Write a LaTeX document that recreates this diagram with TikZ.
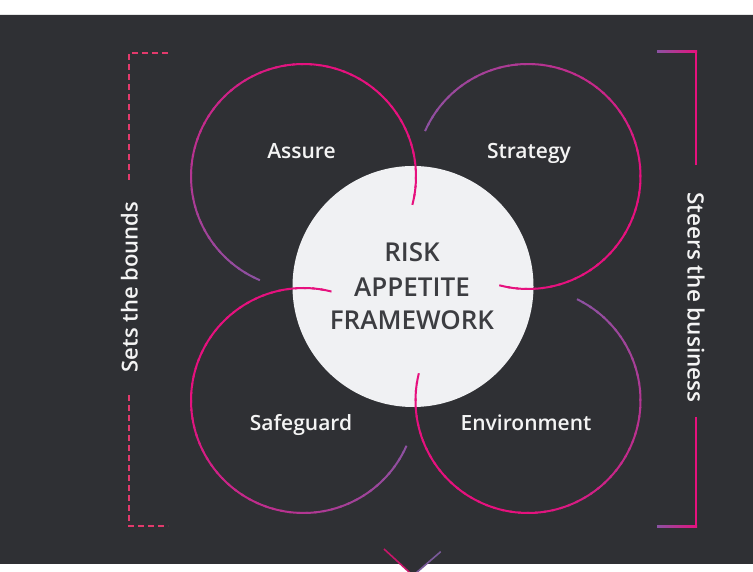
\documentclass[tikz,border=0pt]{standalone}
\usepackage{fontspec}
\setmainfont{Open Sans}
\newfontfamily\sbfont{Open Sans Semibold}
\definecolor{bg}{HTML}{2F3034}
\definecolor{pinkc}{HTML}{E6117E}
\definecolor{purplec}{HTML}{8C52A2}
\definecolor{dashc}{HTML}{E23A6C}
\definecolor{centerc}{HTML}{F0F1F3}
\definecolor{ctext}{HTML}{3C3D41}
\definecolor{ltext}{HTML}{F4F4F4}
\definecolor{vpink}{HTML}{C8166A}
\definecolor{vpurple}{HTML}{7A5A9A}
\tikzset{
  ringline/.style={line width=2pt, line cap=butt},
  ringlabel/.style={text=ltext, font=\sbfont\fontsize{21}{25}\selectfont, anchor=base, inner sep=0pt},
  corelabel/.style={text=ctext, font=\sbfont\fontsize{26}{30}\selectfont, anchor=base, inner sep=0pt},
  sidelabel/.style={text=ltext, font=\sbfont\fontsize{22}{26}\selectfont, anchor=base, inner sep=0pt},
  dashbracket/.style={draw=dashc, line width=2pt, dash pattern=on 6pt off 4pt},
  solidbracket/.style={draw=pinkc, line width=2pt},
}
\newcommand\ringarc[4]{%
  \foreach \i in {0,...,59}{%
    \pgfmathsetmacro\aa{#3+(#4-#3)*\i/60}%
    \pgfmathsetmacro\ab{\i==59 ? #4 : #3+(#4-#3)*(\i+1.3)/60}%
    \pgfmathsetmacro\s{1-(\i+0.5)/60}%
    \pgfmathsetmacro\p{min(100,100*\s/0.6)}%
    \draw[ringline, color=pinkc!\p!purplec] (#1,#2) ++(\aa:112.5pt) arc[start angle=\aa, end angle=\ab, radius=112.5pt];
  }}
\begin{document}
\begin{tikzpicture}[x=1pt,y=1pt]
\useasboundingbox (0,0) rectangle (753,572);
\fill[white] (0,0) rectangle (753,572);
\fill[bg] (0,557) -- (753,557) -- (753,8) -- (426.6,8) -- (413,-3.6) -- (400.5,8) -- (0,8) -- cycle;
\coordinate (vtip) at (413,-3.6);
\coordinate (vl) at (384,23);
\coordinate (vr) at (440.7,20.3);
\draw[vpink, line width=1.6pt] (vl) -- (vtip);
\draw[vpurple, line width=1.6pt] (vr) -- (vtip);
% centre disc
\node[circle, fill=centerc, minimum size=241pt, inner sep=0pt] (core) at (413,285.5) {};
% rings
\ringarc{303.5}{395.5}{-14.6}{247.2}
\ringarc{528}{395.5}{-104.8}{156.2}
\ringarc{528}{171.5}{166}{424.2}
\ringarc{303.5}{171.5}{75.6}{336.3}
% labels
\node[ringlabel] (assure) at (301.5,413) {Assure};
\node[ringlabel] (strategy) at (529,413) {Strategy};
\node[ringlabel] (safeguard) at (301,141) {Safeguard};
\node[ringlabel] (environment) at (526,141.5) {Environment};
\node[corelabel] (risk) at (412,310) {RISK};
\node[corelabel] (appetite) at (412,275) {APPETITE};
\node[corelabel] (framework) at (412,242) {FRAMEWORK};
% left bracket
\draw[dashbracket] (168,519) -- (129,519) -- (129,389);
\draw[dashbracket] (129,177) -- (129,46) -- (168,46);
\node[sidelabel, rotate=90] (bounds) at (137.5,285) {Sets the bounds};
% right bracket
\shade[left color=purplec, right color=pinkc] (657,519) rectangle (697,521);
\draw[solidbracket] (696,521) -- (696,407);
\draw[solidbracket] (696,155) -- (696,45);
\shade[left color=purplec, right color=pinkc] (657,44) rectangle (697,46);
\node[sidelabel, font=\sbfont\fontsize{22.5}{27}\selectfont, rotate=-90] (business) at (687.5,274.5) {Steers the business};
\end{tikzpicture}
\end{document}
